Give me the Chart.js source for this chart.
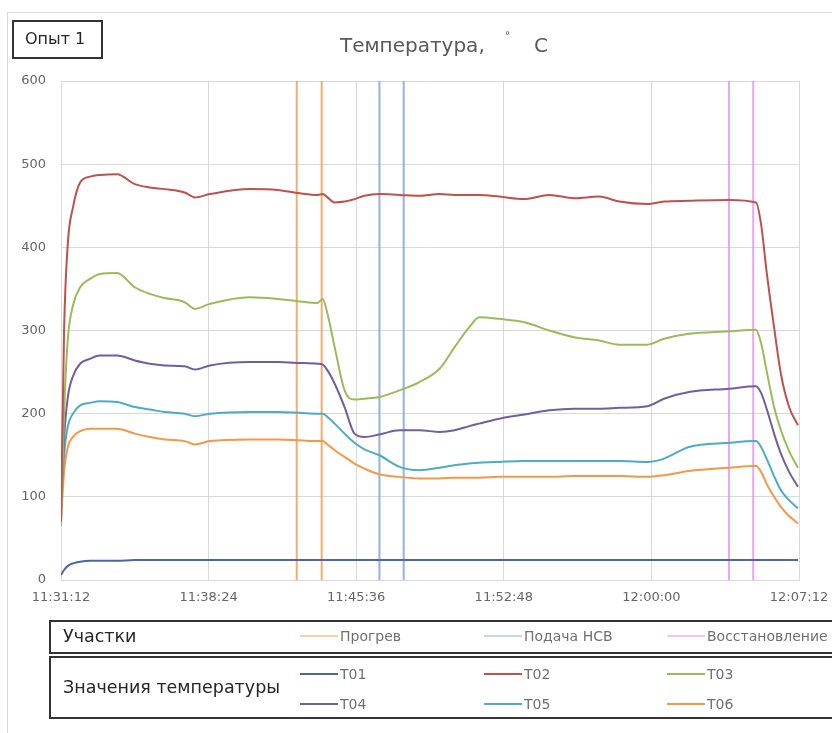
<!DOCTYPE html>
<html>
<head>
<meta charset="utf-8">
<script src="https://cdn.jsdelivr.net/npm/chart.js@4"></script>
<style>
  body { margin: 0; background: #fff; font-family: "DejaVu Sans", sans-serif; }
  #wrap { position: relative; width: 832px; height: 733px; overflow: hidden; }
  #frame { position: absolute; left: 7px; top: 12px; width: 900px; height: 800px; border: 1px solid #d9d9d9; }
  #myChart { position: absolute; left: 0; top: 0; }
  .box { position: absolute; border: 2px solid #333; box-sizing: border-box; background: #fff; }
  .title { position: absolute; top: 33px; font-size: 20px; color: #595959; white-space: nowrap; }
  .lbl { position: absolute; font-size: 17.5px; color: #262626; white-space: nowrap; }
  .item { position: absolute; font-size: 14px; color: #707070; white-space: nowrap; height: 16px; line-height: 16px; }
  .item i { display: inline-block; width: 38px; height: 2px; vertical-align: middle; margin-right: 2px; position: relative; top: -1px; }
</style>
</head>
<body>
<div id="wrap">
  <div id="frame"></div>
  <canvas id="myChart" width="832" height="733"></canvas>

  <div class="box" style="left:12px;top:20px;width:91px;height:39px;"></div>
  <div class="lbl" style="left:25px;top:29px;font-size:16px;">Опыт 1</div>
  <div class="title" style="left:340px;">Температура,</div>
  <div class="title" style="left:505px;top:30px;font-size:10px;">°</div>
  <div class="title" style="left:534px;">C</div>

  <div class="box" style="left:49px;top:620px;width:800px;height:34px;"></div>
  <div class="lbl" style="left:63px;top:626px;">Участки</div>
  <div id="legend1"></div>

  <div class="box" style="left:49px;top:656px;width:800px;height:63px;"></div>
  <div class="lbl" style="left:63px;top:677px;">Значения температуры</div>
  <div id="legend2"></div>
</div>

<script>
// sample times (every series is read at the same moments)
var times = ["11:31:12", "11:31:21", "11:31:32", "11:31:47", "11:32:08", "11:32:37", "11:33:06", "11:33:56",
  "11:34:48", "11:35:32", "11:36:16", "11:37:14", "11:37:44", "11:38:28", "11:40:24", "11:41:46",
  "11:42:51", "11:43:43", "11:43:58", "11:44:12", "11:44:33", "11:45:02", "11:45:31", "11:46:00",
  "11:46:44", "11:47:43", "11:48:41", "11:49:40", "11:50:24", "11:51:07", "11:51:36", "11:52:35",
  "11:53:48", "11:55:01", "11:56:14", "11:57:27", "11:58:26", "11:59:48", "12:00:37", "12:01:50",
  "12:03:47", "12:05:06", "12:05:21", "12:05:38", "12:05:59", "12:06:19", "12:06:43", "12:07:09"];

var t01 = [6, 12, 17, 20, 22, 23, 23, 23, 24, 24, 24, 24, 24, 24, 24, 24,
  24, 24, 24, 24, 24, 24, 24, 24, 24, 24, 24, 24, 24, 24, 24, 24,
  24, 24, 24, 24, 24, 24, 24, 24, 24, 24, 24, 24, 24, 24, 24, 24];
var t02 = [70, 300, 405, 448, 478, 485, 487, 488, 476, 472, 470, 466, 460, 464, 470, 469,
  465, 463, 464, 460, 454, 455, 458, 462, 464, 463, 462, 464, 463, 463, 463, 461,
  458, 463, 459, 461, 455, 452, 455, 456, 457, 454, 428, 368, 304, 248, 208, 186];
var t03 = [65, 200, 290, 330, 352, 362, 368, 369, 352, 344, 339, 334, 326, 332, 340, 338,
  335, 333, 338, 320, 280, 228, 217, 218, 220, 228, 238, 254, 280, 304, 316, 314,
  310, 300, 292, 288, 283, 283, 290, 296, 299, 301, 285, 250, 208, 180, 155, 135];
var t04 = [90, 170, 220, 245, 260, 266, 270, 270, 264, 260, 258, 257, 253, 258, 262, 262,
  261, 260, 259, 252, 236, 208, 176, 172, 175, 180, 180, 178, 180, 185, 188, 194,
  199, 204, 206, 206, 207, 209, 218, 226, 230, 233, 225, 205, 176, 152, 130, 112];
var t05 = [90, 150, 185, 200, 210, 213, 215, 214, 208, 205, 202, 200, 197, 200, 202, 202,
  201, 200, 200, 196, 188, 176, 165, 157, 150, 136, 132, 135, 138, 140, 141, 142,
  143, 143, 143, 143, 143, 142, 146, 160, 165, 167, 160, 145, 125, 108, 96, 86];
var t06 = [70, 130, 160, 172, 179, 182, 182, 182, 176, 172, 169, 167, 163, 167, 169, 169,
  168, 167, 167, 163, 156, 148, 140, 134, 127, 124, 122, 122, 123, 123, 123, 124,
  124, 124, 125, 125, 125, 124, 126, 131, 135, 137, 130, 115, 100, 88, 77, 68];

// section boundaries (start / end)
var heatTimes = ["11:42:42", "11:43:55"];
var feedTimes = ["11:46:44", "11:47:55"];
var recoveryTimes = ["12:03:47", "12:04:58"];

var seriesNames = ["T01", "T02", "T03", "T04", "T05", "T06"];
var seriesColors = ["#4a68a6", "#c0504d", "#9bbb59", "#6f5f9f", "#4bacc6", "#f79646"];
var sectionNames = ["Прогрев", "Подача НСВ", "Восстановление"];
var sectionColors = ["rgba(247,150,70,0.8)", "rgba(140,170,212,0.9)", "rgba(228,150,238,0.85)"];
var sectionLegendColors = ["#fbcfa8", "#c6d6ea", "#f3c3f5"];

function toSec(s) {
  var p = s.split(':').map(Number);
  return p[0] * 3600 + p[1] * 60 + p[2];
}
function fmt(v) {
  var h = Math.floor(v / 3600), m = Math.floor(v % 3600 / 60), s = Math.round(v % 60);
  return h + ':' + String(m).padStart(2, '0') + ':' + String(s).padStart(2, '0');
}

var allSeries = [t01, t02, t03, t04, t05, t06];
var datasets = allSeries.map(function (vals, k) {
  return {
    label: seriesNames[k],
    data: times.map(function (t, i) { return { x: toSec(t), y: vals[i] }; }),
    borderColor: seriesColors[k],
    borderWidth: 2,
    pointRadius: 0,
    cubicInterpolationMode: 'monotone'
  };
});

[heatTimes, feedTimes, recoveryTimes].forEach(function (pair, k) {
  var a = toSec(pair[0]), b = toSec(pair[1]);
  datasets.push({
    label: sectionNames[k],
    data: [{ x: a, y: 0 }, { x: a, y: 600 }, { x: a, y: null }, { x: b, y: 600 }, { x: b, y: 0 }],
    borderColor: sectionColors[k],
    borderWidth: 2,
    pointRadius: 0,
    spanGaps: false
  });
});

var tickFont = { family: '"DejaVu Sans"', size: 13 };
var ctx = document.getElementById('myChart').getContext('2d');
var myChart = new Chart(ctx, {
  type: 'line',
  data: { datasets: datasets },
  options: {
    responsive: false,
    animation: false,
    layout: { padding: { top: 81, right: 33, bottom: 123, left: 0 } },
    plugins: { legend: { display: false }, tooltip: { enabled: false } },
    scales: {
      x: {
        type: 'linear',
        min: toSec("11:31:12"),
        max: toSec("12:07:12"),
        ticks: {
          stepSize: 432,
          color: '#666',
          font: tickFont,
          padding: 10,
          maxRotation: 0,
          callback: function (v) { return fmt(v); }
        },
        grid: { color: '#d9d9d9', drawTicks: false },
        border: { color: '#d9d9d9' },
        afterFit: function (s) { s.height = 30; s.paddingLeft = 0; s.paddingRight = 0; }
      },
      y: {
        min: 0,
        max: 600,
        ticks: {
          stepSize: 100,
          color: '#666',
          font: tickFont,
          padding: 15
        },
        grid: { color: '#d9d9d9', drawTicks: false },
        border: { color: '#d9d9d9' },
        afterFit: function (s) { s.width = 61; }
      }
    }
  }
});

// legend rows
var cols = [300, 484, 667];
var l1 = document.getElementById('legend1');
sectionNames.forEach(function (n, k) {
  l1.insertAdjacentHTML('beforeend', '<div class="item" style="left:' + cols[k] + 'px;top:628px;"><i style="background:' +
    sectionLegendColors[k] + '"></i>' + n + '</div>');
});
var l2 = document.getElementById('legend2');
seriesNames.forEach(function (n, k) {
  var top = k < 3 ? 666 : 696;
  l2.insertAdjacentHTML('beforeend', '<div class="item" style="left:' + cols[k % 3] + 'px;top:' + top + 'px;"><i style="background:' +
    seriesColors[k] + '"></i>' + n + '</div>');
});
</script>
</body>
</html>
